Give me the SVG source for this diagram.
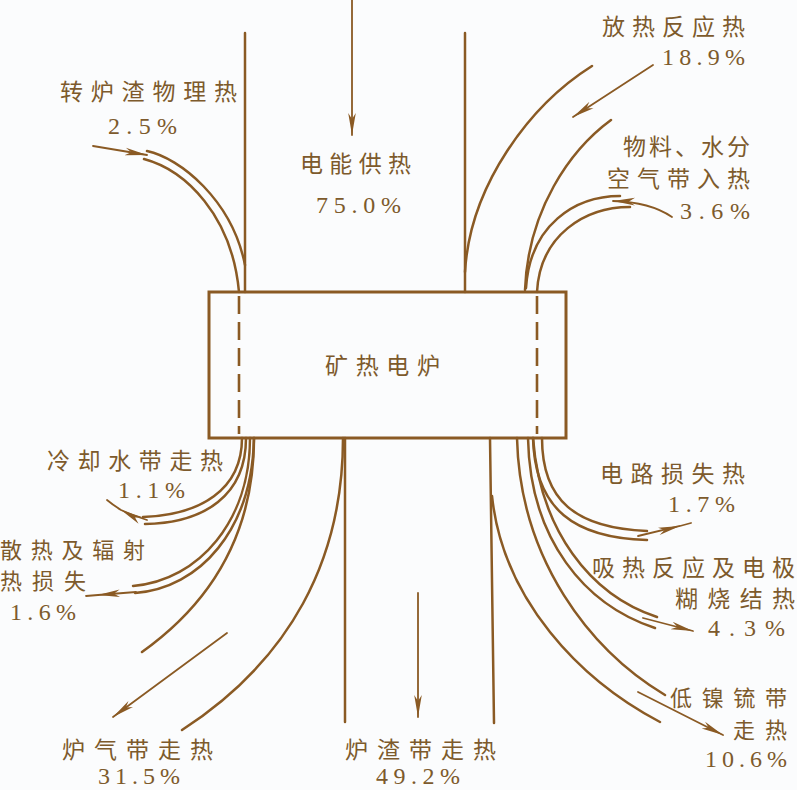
<svg xmlns="http://www.w3.org/2000/svg" width="797" height="790" viewBox="0 0 797 790">
<defs>
<style>
.ln{fill:none;stroke:#8a5a24;stroke-width:2.5;stroke-linecap:round}
.ar{fill:none;stroke:#8a5a24;stroke-width:1.8;stroke-linecap:round}
.dash{fill:none;stroke:#8a5a24;stroke-width:2.6;stroke-dasharray:18 8}
.box{fill:none;stroke:#8a5a24;stroke-width:3}
.cn{font-family:"Noto Sans CJK SC","Noto Sans",sans-serif;font-size:23px;fill:#7d5a2c}
.cs{font-family:"Noto Sans CJK SC","Noto Sans",sans-serif;font-size:22px;fill:#7d5a2c}
.num{font-family:"Liberation Serif",serif;font-size:24px;fill:#7d5a2c}
</style>
<marker id="ah" markerWidth="24" markerHeight="10" refX="22" refY="5" orient="auto" markerUnits="userSpaceOnUse">
<path d="M0,1.2 L22,5 L0,8.8 L6,5 Z" fill="#8a5a24"/>
</marker>
</defs>
<rect x="0" y="0" width="797" height="790" fill="#fbfcfd"/>

<g id="connectors">
<!-- electric power 75.0% -->
<line class="ln" x1="245" y1="33" x2="245" y2="292"/>
<line class="ln" x1="465" y1="33" x2="465" y2="292"/>
<path class="ar" d="M352,0 L352,135" marker-end="url(#ah)"/>
<!-- converter slag 2.5% -->
<path class="ln" d="M147,151 C180,158 232,200 245,265"/>
<path class="ln" d="M144,159 C185,170 232,215 239,292"/>
<path class="ar" d="M93,146 L147,155" marker-end="url(#ah)"/>
<!-- exothermic 18.9% -->
<path class="ln" d="M592,66 C530,105 470,185 465,272"/>
<path class="ln" d="M611,120 C570,150 528,210 525,290"/>
<path class="ar" d="M653,65 L573,117" marker-end="url(#ah)"/>
<!-- material 3.6% -->
<path class="ln" d="M620,196 C575,196 530,225 526,288"/>
<path class="ln" d="M630,207 C585,207 540,235 537,292"/>
<path class="ar" d="M672,217 Q650,202 613,201" marker-end="url(#ah)"/>
<!-- cooling water 1.1% -->
<path class="ln" d="M242,438 C242,490 200,515 143,517"/>
<path class="ln" d="M246,438 C246,495 205,523 145,524"/>
<path class="ar" d="M147,520 Q134,516 121,510 Q113,505 107,500" marker-mid="url(#ah)"/>
<!-- heat loss 1.6% -->
<path class="ln" d="M250,438 C250,520 200,580 133,586"/>
<path class="ln" d="M254,438 C252,530 200,588 135,593"/>
<path class="ar" d="M136,592 L98,595 L86,596" marker-mid="url(#ah)"/>
<!-- furnace gas 31.5% -->
<path class="ln" d="M254,438 C254,530 215,600 142,652"/>
<path class="ln" d="M343,438 C343,560 290,660 182,730"/>
<path class="ar" d="M227,633 L113,717" marker-end="url(#ah)"/>
<!-- slag 49.2% -->
<line class="ln" x1="345" y1="438" x2="345" y2="722"/>
<line class="ln" x1="490" y1="438" x2="494" y2="723"/>
<path class="ar" d="M418,593 L418,717" marker-end="url(#ah)"/>
<!-- circuit loss 1.7% -->
<path class="ln" d="M542,438 C542,500 575,528 647,531"/>
<path class="ln" d="M533,438 C535,510 575,538 647,540"/>
<path class="ar" d="M638,536 L680,526 L691,523" marker-mid="url(#ah)"/>
<!-- endothermic 4.3% -->
<path class="ln" d="M533,438 C540,530 590,595 657,617"/>
<path class="ln" d="M528,438 C530,540 585,605 655,628"/>
<path class="ar" d="M643,618 L693,631" marker-end="url(#ah)"/>
<!-- matte 10.6% -->
<path class="ln" d="M517,438 C520,560 590,650 665,695"/>
<path class="ln" d="M492,496 C503,600 580,680 660,722"/>
<path class="ar" d="M638,692 L723,735" marker-end="url(#ah)"/>
</g>

<g id="furnace">
<rect class="box" x="209" y="292" width="357" height="146"/>
<line class="dash" x1="239" y1="296" x2="239" y2="434"/>
<line class="dash" x1="537" y1="296" x2="537" y2="434"/>
<text class="cn" x="325" y="374" textLength="115">矿热电炉</text>
</g>

<g id="electric">
<text class="cn" x="300" y="172" textLength="111">电能供热</text>
<text class="num" x="316" y="213" textLength="85">75.0%</text>
</g>
<g id="converter-slag">
<text class="cn" x="60" y="100" textLength="177">转炉渣物理热</text>
<text class="num" x="108" y="134" textLength="69">2.5%</text>
</g>
<g id="exothermic">
<text class="cn" x="602" y="35" textLength="143">放热反应热</text>
<text class="num" x="662" y="65" textLength="83">18.9%</text>
</g>
<g id="material">
<text class="cn" x="623" y="155" textLength="127">物料、水分</text>
<text class="cn" x="607" y="187" textLength="143">空气带入热</text>
<text class="num" x="680" y="219" textLength="70">3.6%</text>
</g>
<g id="cooling-water">
<text class="cn" x="47" y="469" textLength="176">冷却水带走热</text>
<text class="num" x="118" y="498" textLength="67">1.1%</text>
</g>
<g id="heat-loss">
<text class="cs" x="0" y="558" textLength="145">散热及辐射</text>
<text class="cs" x="0" y="589" textLength="86">热损失</text>
<text class="num" x="10" y="620" textLength="66">1.6%</text>
</g>
<g id="furnace-gas">
<text class="cn" x="62" y="758" textLength="151">炉气带走热</text>
<text class="num" x="98" y="784" textLength="82">31.5%</text>
</g>
<g id="slag">
<text class="cn" x="345" y="758" textLength="151">炉渣带走热</text>
<text class="num" x="376" y="784" textLength="84">49.2%</text>
</g>
<g id="circuit-loss">
<text class="cn" x="600" y="482" textLength="145">电路损失热</text>
<text class="num" x="668" y="512" textLength="67">1.7%</text>
</g>
<g id="endothermic">
<text class="cn" x="592" y="576" textLength="203">吸热反应及电极</text>
<text class="cn" x="675" y="607" textLength="120">糊烧结热</text>
<text class="num" x="708" y="636" textLength="77">4.3%</text>
</g>
<g id="matte">
<text class="cs" x="670" y="706" textLength="117">低镍锍带</text>
<text class="cs" x="733" y="738" textLength="54">走热</text>
<text class="num" x="705" y="767" textLength="82">10.6%</text>
</g>
</svg>
